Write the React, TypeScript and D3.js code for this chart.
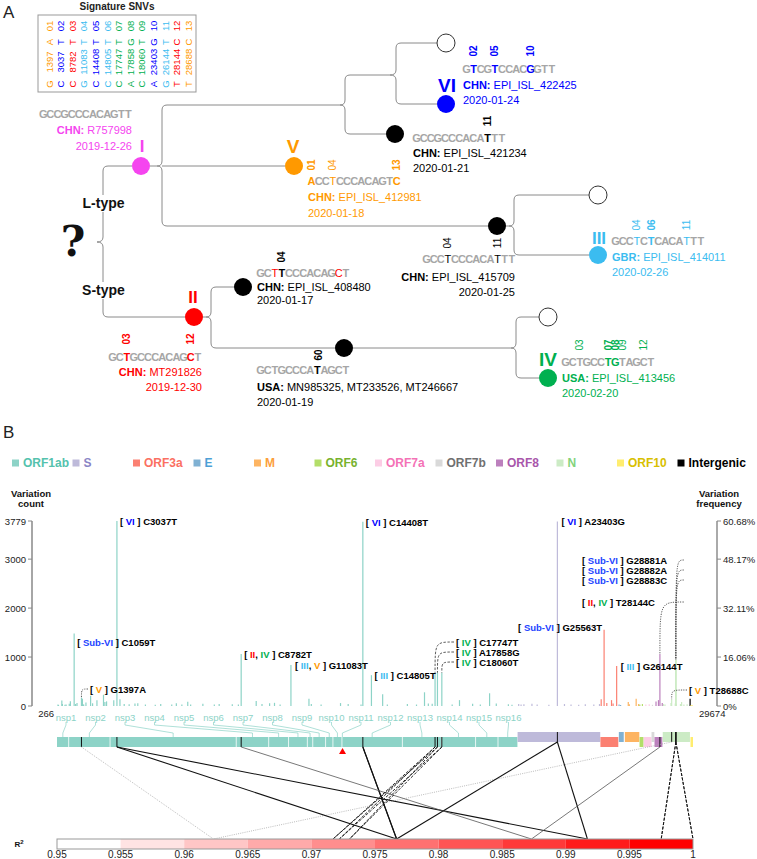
import React from 'react';
import * as d3 from 'd3';

const FONT = "'Liberation Sans', Arial, Helvetica, sans-serif";

// ---------------- Panel A data ----------------
const snvIds = ['01', '02', '03', '04', '05', '06', '07', '08', '09', '10', '11', '12', '13'];
const snvRef = ['G', 'C', 'C', 'G', 'C', 'C', 'C', 'A', 'C', 'A', 'G', 'T', 'T'];
const snvPos = [1397, 3037, 8782, 11083, 14408, 14805, 17747, 17858, 18060, 23403, 26144, 28144, 28688];
const snvAlt = ['A', 'T', 'T', 'T', 'T', 'T', 'T', 'G', 'T', 'G', 'T', 'C', 'C'];
const snvClade = ['V', 'VI', 'II', 'III', 'VI', 'III', 'IV', 'IV', 'IV', 'VI', 'III', 'II', 'V'];

const CC: Record<string, string> = {
  I: '#f545ef', II: '#ff0000', III: '#3bbcf0', IV: '#00b050', V: '#ff9900', VI: '#0000ff',
  'Sub-VI': '#2244ff', black: '#000000', white: '#ffffff',
};

// tree nodes: [name, x, y, fill]
const treeNodes: [string, number, number, string][] = [
  ['I', 141, 166, 'I'], ['o1', 446, 43, 'white'], ['VI', 446, 104, 'VI'], ['b1', 395, 134, 'black'],
  ['V', 294, 166, 'V'], ['b2', 497, 226, 'black'], ['o2', 598, 195, 'white'], ['III', 598, 255, 'III'],
  ['II', 194, 317, 'II'], ['b3', 243, 287, 'black'], ['b4', 344, 348, 'black'], ['o3', 548, 317, 'white'],
  ['IV', 548, 378, 'IV'],
];
// braces: [tipX, vX, tipY, topY, botY, topEndX, botEndX, stemStartX]
const treeBraces: number[][] = [
  [97, 103, 242, 166, 317, 132, 185, NaN],
  [157, 162, 166, 105, 226, 340, 488, 150],
  [340, 345, 105, 75, 134, 390, 386, NaN],
  [390, 396, 75, 43, 104, 437, 437, NaN],
  [509, 514, 226, 195, 255, 589, 589, 506],
  [206, 211, 317, 287, 348, 234, 335, 203],
  [511, 516, 348, 317, 378, 539, 539, 353],
];
const treeStraight: number[][] = [[162, 166, 285]];

// clade labels: [text, x, y, size]
const cladeLabels: [string, number, number, number][] = [
  ['I', 142, 146, 17], ['VI', 447, 85, 19], ['V', 293, 146, 19], ['III', 599, 238, 17],
  ['II', 193, 297, 17], ['IV', 548, 359, 19],
];

type Leaf = {
  color: string; seq: string; sx: number; sy: number;
  marks: [number, string, boolean][]; nums: [string, number, boolean, string, number][]; ny: number;
  country: string; id: string; date: string; lx: number; anchor: 'start' | 'end'; y1: number; y2: number;
};
const leaves: Leaf[] = [
  { color: CC.I, seq: 'GCCGCCCACAGTT', sx: 39.7, sy: 114, marks: [], nums: [], ny: 0,
    country: 'CHN:', id: ' R757998', date: '2019-12-26', lx: 132, anchor: 'end', y1: 130, y2: 146 },
  { color: CC.VI, seq: 'GTCGTCCACGGTT', sx: 463, sy: 69,
    marks: [[2, CC.VI, true], [5, CC.VI, true], [10, CC.VI, true]],
    nums: [['02', 2, true, CC.VI, -90], ['05', 5, true, CC.VI, -90], ['10', 10, true, CC.VI, -90]], ny: 51,
    country: 'CHN:', id: ' EPI_ISL_422425', date: '2020-01-24', lx: 463, anchor: 'start', y1: 85, y2: 100 },
  { color: '#000', seq: 'GCCGCCCACATTT', sx: 413, sy: 138, marks: [[11, '#000', true]],
    nums: [['11', 11, true, '#000', -90]], ny: 121,
    country: 'CHN:', id: ' EPI_ISL_421234', date: '2020-01-21', lx: 413, anchor: 'start', y1: 153, y2: 168 },
  { color: CC.V, seq: 'ACCTCCCACAGTC', sx: 308, sy: 181,
    marks: [[1, CC.V, true], [4, CC.V, false], [13, CC.V, true]],
    nums: [['01', 1, true, CC.V, -90], ['04', 4, false, CC.V, -90], ['13', 13, true, CC.V, -90]], ny: 165,
    country: 'CHN:', id: ' EPI_ISL_412981', date: '2020-01-18', lx: 308, anchor: 'start', y1: 197, y2: 213 },
  { color: '#000', seq: 'GCCTCCCACATTT', sx: 423, sy: 259, marks: [[4, '#000', false], [11, '#000', false]],
    nums: [['04', 4, false, '#000', -90], ['11', 11, false, '#000', -90]], ny: 243,
    country: 'CHN:', id: ' EPI_ISL_415709', date: '2020-01-25', lx: 515, anchor: 'end', y1: 277, y2: 292 },
  { color: CC.III, seq: 'GCCTCTCACATTT', sx: 612, sy: 241,
    marks: [[4, CC.III, false], [6, CC.III, true], [11, CC.III, false]],
    nums: [['04', 4, false, CC.III, -90], ['06', 6, true, CC.III, -90], ['11', 11, false, CC.III, -90]], ny: 225,
    country: 'GBR:', id: ' EPI_ISL_414011', date: '2020-02-26', lx: 612, anchor: 'start', y1: 257, y2: 272 },
  { color: CC.II, seq: 'GCTGCCCACAGCT', sx: 109, sy: 357, marks: [[3, CC.II, true], [12, CC.II, true]],
    nums: [['03', 3, true, CC.II, -90], ['12', 12, true, CC.II, -90]], ny: 339,
    country: 'CHN:', id: ' MT291826', date: '2019-12-30', lx: 202, anchor: 'end', y1: 372, y2: 387 },
  { color: '#000', seq: 'GCTTCCCACAGCT', sx: 257, sy: 273,
    marks: [[3, CC.II, false], [4, '#000', true], [12, CC.II, false]],
    nums: [['04', 4, true, '#000', -90]], ny: 257,
    country: 'CHN:', id: ' EPI_ISL_408480', date: '2020-01-17', lx: 257, anchor: 'start', y1: 287, y2: 300 },
  { color: '#000', seq: 'GCTGCCCATAGCT', sx: 257, sy: 370, marks: [[9, '#000', true]],
    nums: [['09', 9, true, '#000', 90]], ny: 355,
    country: 'USA:', id: ' MN985325, MT233526, MT246667', date: '2020-01-19', lx: 257, anchor: 'start', y1: 387, y2: 402 },
  { color: CC.IV, seq: 'GCTGCCTGTAGCT', sx: 562, sy: 362, marks: [[7, CC.IV, true], [8, CC.IV, true]],
    nums: [['03', 3, false, CC.IV, -90], ['07', 7, true, CC.IV, -90], ['08', 8, true, CC.IV, -90],
      ['09', 9, false, CC.IV, -90], ['12', 12, false, CC.IV, -90]], ny: 345,
    country: 'USA:', id: ' EPI_ISL_413456', date: '2020-02-20', lx: 562, anchor: 'start', y1: 378, y2: 393 },
];
const CHAR_W = 7.1;

// ---------------- Panel B data ----------------
const geneNames = ['ORF1ab', 'S', 'ORF3a', 'E', 'M', 'ORF6', 'ORF7a', 'ORF7b', 'ORF8', 'N', 'ORF10', 'Intergenic'];
const geneStart = [266, 21563, 25393, 26245, 26523, 27202, 27394, 27756, 27894, 28274, 29558, NaN];
const geneEnd = [21555, 25384, 26220, 26472, 27191, 27387, 27759, 27887, 28259, 29533, 29674, NaN];
const geneFill = ['#8dd3c7', '#bebada', '#fb8072', '#80b1d3', '#fdb462', '#b3de69', '#fccde5', '#d9d9d9', '#bc80bd', '#ccebc5', '#ffed6f', '#000000'];
const geneText = ['#55c2ad', '#8a85c6', '#fb7062', '#4d9fd6', '#fc9f3c', '#78b22e', '#f472b6', '#707070', '#a957ab', '#83d37b', '#d8c000', '#000000'];
const geneRaised = [false, true, false, true, true, false, false, true, false, true, false, false];

const nspNames = ['nsp1', 'nsp2', 'nsp3', 'nsp4', 'nsp5', 'nsp6', 'nsp7', 'nsp8', 'nsp9', 'nsp10', 'nsp11', 'nsp12', 'nsp13', 'nsp14', 'nsp15', 'nsp16'];
const nspStart = [266, 806, 2720, 8555, 10055, 10973, 11843, 12092, 12686, 13025, 13442, 13442, 16237, 18040, 19621, 20659];
const nspEnd = [805, 2719, 8554, 10054, 10972, 11842, 12091, 12685, 13024, 13441, 13480, 16236, 18039, 19620, 20658, 21552];
const frameshiftPos = 13468;

const countTicks = [0, 1000, 2000, 3000, 3779];
const freqTicks = ['0%', '16.06%', '32.11%', '48.17%', '60.68%'];

// labelled variants [pos, count]
const majorVariants: [number, number][] = [
  [1059, 1480], [1397, 170], [3037, 3779], [8782, 1060], [11083, 835], [14408, 3765], [14805, 630],
  [17747, 680], [17858, 680], [18060, 680], [23403, 3770], [25563, 1560], [26144, 815], [28144, 1060],
  [28688, 140], [28881, 945], [28882, 940], [28883, 940],
];
// background variants [pos, count]
const minorVariants: [number, number][] = [
  [313, 30], [335, 20], [490, 110], [515, 40], [635, 25], [686, 30], [833, 45], [884, 95], [1127, 40],
  [1191, 60], [1440, 150], [1457, 35], [1498, 30], [1605, 70], [1820, 210], [1912, 55], [2113, 120],
  [2416, 230], [2480, 80], [2558, 95], [2891, 120], [3177, 140], [3373, 40], [3602, 35], [3871, 50],
  [4002, 55], [4354, 30], [4809, 25], [5062, 40], [5572, 30], [5784, 55], [6040, 30], [6312, 85],
  [6446, 30], [7011, 45], [7540, 30], [7765, 40], [8371, 35], [8653, 30], [9477, 100], [9745, 40],
  [10097, 55], [10323, 65], [10582, 30], [11916, 150], [12025, 40], [12478, 30], [13376, 60],
  [13730, 40], [14324, 30], [15324, 240], [15540, 30], [16467, 40], [16889, 30], [17259, 280],
  [17436, 50], [17615, 45], [18538, 30], [18877, 120], [19484, 45], [19839, 30], [20268, 260],
  [20578, 50], [21137, 35], [21304, 25],
  [21614, 40], [21724, 30], [21855, 35], [22227, 45], [22468, 30], [23010, 25], [23731, 40],
  [24034, 30], [24389, 25], [24694, 35], [25088, 30], [25350, 40],
  [25429, 140], [25688, 60], [25907, 120], [25979, 50], [26256, 30], [26326, 20],
  [26681, 80], [26729, 35], [27046, 150], [27157, 40], [27213, 30], [27335, 40], [27493, 30],
  [27649, 35], [27800, 25], [27964, 90], [28077, 120], [28253, 60],
  [28311, 40], [28378, 30], [28657, 60], [28854, 50], [28899, 45], [29095, 40], [29148, 80],
  [29253, 30], [29402, 35], [29540, 150], [29585, 20], [29640, 15],
];

// annotations: [pos, clades, mutation, dx, dy, anchor]
const peakLabels: [number, string[], string, number, number, string][] = [
  [1059, ['Sub-VI'], 'C1059T', 3, 8, 'start'],
  [3037, ['VI'], 'C3037T', 3, 0, 'start'],
  [8782, ['II', 'IV'], 'C8782T', 3, 0, 'start'],
  [11083, ['III', 'V'], 'G11083T', 4, 0, 'start'],
  [14408, ['VI'], 'C14408T', 3, 0, 'start'],
  [14805, ['III'], 'C14805T', 3, 0, 'start'],
  [23403, ['VI'], 'A23403G', 4, 0, 'start'],
  [25563, ['Sub-VI'], 'G25563T', -2, -3, 'end'],
  [26144, ['III'], 'G26144T', 4, 0, 'start'],
];
// annotations with leader curves: [pos, clades, mutation, labelX, labelY, anchor, style]
const calloutLabels: [number, string[], string, number, number, string, string][] = [
  [1397, ['V'], 'G1397A', 90, 689, 'start', 'dot'],
  [17747, ['IV'], 'C17747T', 456, 642, 'start', 'dash'],
  [17858, ['IV'], 'A17858G', 456, 652, 'start', 'dash'],
  [18060, ['IV'], 'C18060T', 456, 662, 'start', 'dash'],
  [28144, ['II', 'IV'], 'T28144C', 582, 602, 'start', 'dot'],
  [28881, ['Sub-VI'], 'G28881A', 582, 560, 'start', 'dot'],
  [28882, ['Sub-VI'], 'G28882A', 582, 570, 'start', 'dot'],
  [28883, ['Sub-VI'], 'G28883C', 582, 580, 'start', 'dot'],
  [28688, ['V'], 'T28688C', 689, 690, 'start', 'dot'],
];

// linkage pairs: [posA, posB, r2, style]
const ldPairs: [number, number, number, string][] = [
  [1397, 28688, 0.9623, 'dotted'],
  [3037, 14408, 0.9767, 'solid'],
  [14408, 23403, 0.9767, 'solid'],
  [3037, 23403, 0.9917, 'solid'],
  [8782, 28144, 0.9873, 'thin'],
  [17747, 17858, 0.9717, 'dashed'],
  [17858, 18060, 0.9730, 'dashed'],
  [17747, 18060, 0.9722, 'dashed'],
  [28881, 28883, 0.9975, 'dashed'],
  [28882, 28883, 1.0, 'dashed'],
];
const r2Ticks = [0.95, 0.955, 0.96, 0.965, 0.97, 0.975, 0.98, 0.985, 0.99, 0.995, 1];

function geneIndex(pos: number): number {
  for (let i = 0; i < 11; i++) if (pos >= geneStart[i] && pos <= geneEnd[i]) return i;
  return 11;
}

function bracePath(tipX: number, vX: number, tipY: number, topY: number, botY: number) {
  const r = 5, k = 5;
  return `M${vX + r},${topY} Q${vX},${topY} ${vX},${topY + r} L${vX},${tipY - k} Q${vX},${tipY} ${tipX},${tipY} ` +
    `Q${vX},${tipY} ${vX},${tipY + k} L${vX},${botY - r} Q${vX},${botY} ${vX + r},${botY}`;
}

function CladeTspans({ clades }: { clades: string[] }) {
  const parts: any[] = [<tspan key="o" fill="#000">[ </tspan>];
  clades.forEach((c, i) => {
    if (i > 0) parts.push(<tspan key={'c' + i} fill="#000">, </tspan>);
    parts.push(<tspan key={'n' + i} fill={CC[c]}>{c}</tspan>);
  });
  return <>{parts}</>;
}

export default function App() {
  const xG = d3.scaleLinear().domain([266, 29674]).range([57, 693]);
  const yC = d3.scaleLinear().domain([0, 3779]).range([706, 521]);
  const xR = d3.scaleLinear().domain([0.95, 1]).range([57, 693]);
  const r2Color = d3.interpolateRgb('#ffffff', '#ff0000');
  const trackTop = (gi: number) => (geneRaised[gi] ? 732 : 737);
  const TRACK_H = 10;
  const ldPositions = Array.from(new Set(ldPairs.flatMap((p) => [p[0], p[1]])));
  const allVariants = [...minorVariants, ...majorVariants];

  const ldStyle = (s: string) => {
    if (s === 'solid') return { stroke: '#111', strokeWidth: 1.1 };
    if (s === 'thin') return { stroke: '#555', strokeWidth: 0.8 };
    if (s === 'dashed') return { stroke: '#111', strokeWidth: 0.9, strokeDasharray: '3,1.5' };
    return { stroke: '#aaa', strokeWidth: 0.8, strokeDasharray: '1,1.2' };
  };

  return (
    <svg width={757} height={859} style={{ position: 'absolute', left: 0, top: 0, background: '#fff' }} fontFamily={FONT}>
      <rect width={757} height={859} fill="#fff" />
      {/* ============ Panel A ============ */}
      <text x={3} y={18} fontSize={17} fill="#222">A</text>
      <text x={117} y={10} fontSize={10} fontWeight="bold" textAnchor="middle" fill="#222">Signature SNVs</text>
      <rect x={38} y={15} width={158} height={77} fill="#fff" stroke="#999" strokeWidth={1} />
      {snvIds.map((id, i) => {
        const cx = 49 + i * 11.6;
        const col = CC[snvClade[i]];
        const parts: [string, number][] = [[snvRef[i], 84], [String(snvPos[i]), 62], [snvAlt[i], 42], [id, 26]];
        return parts.map(([t, cy], j) => (
          <text key={id + j} transform={`translate(${cx},${cy}) rotate(-90)`} textAnchor="middle"
            dominantBaseline="central" fontSize={9.5} fill={col}>{t}</text>
        ));
      })}

      {/* tree branches */}
      <g fill="none" stroke="#8a8a8a" strokeWidth={1}>
        {treeBraces.map((b, i) => {
          const [tipX, vX, tipY, topY, botY, topEnd, botEnd, stem] = b;
          return (
            <g key={'br' + i}>
              <path d={bracePath(tipX, vX, tipY, topY, botY)} />
              <line x1={vX + 5} y1={topY} x2={topEnd} y2={topY} />
              <line x1={vX + 5} y1={botY} x2={botEnd} y2={botY} />
              {!isNaN(stem) && <line x1={stem} y1={tipY} x2={tipX} y2={tipY} />}
            </g>
          );
        })}
        {treeStraight.map((s, i) => <line key={'st' + i} x1={s[0]} y1={s[1]} x2={s[2]} y2={s[1]} />)}
      </g>
      {/* L/S type labels */}
      <rect x={80} y={195} width={47} height={17} fill="#fff" />
      <text x={103.5} y={208} fontSize={14} fontWeight="bold" textAnchor="middle" fill="#111">L-type</text>
      <rect x={80} y={282} width={47} height={17} fill="#fff" />
      <text x={103.5} y={295} fontSize={14} fontWeight="bold" textAnchor="middle" fill="#111">S-type</text>
      <text x={73} y={256} fontSize={42} fontWeight="bold" textAnchor="middle" fill="#111"
        fontFamily="'DejaVu Serif', serif">?</text>

      {treeNodes.map(([n, x, y, f]) => (
        <circle key={n} cx={x} cy={y} r={9} fill={CC[f]} stroke={f === 'white' ? '#333' : 'none'} strokeWidth={1} />
      ))}
      {cladeLabels.map(([t, x, y, s]) => (
        <text key={'cl' + t} x={x} y={y} fontSize={s} fontWeight="bold" textAnchor="middle"
          dominantBaseline="central" fill={CC[t]}>{t}</text>
      ))}

      {leaves.map((lf, li) => (
        <g key={'lf' + li}>
          {lf.seq.split('').map((ch, ci) => {
            const m = lf.marks.find((mk) => mk[0] === ci + 1);
            return (
              <text key={ci} x={lf.sx + (ci + 0.5) * CHAR_W} y={lf.sy} textAnchor="middle" dominantBaseline="central"
                fontSize={11} fontWeight={m ? (m[2] ? 'bold' : 'normal') : 'bold'} fill={m ? m[1] : '#a6a6a6'}>{ch}</text>
            );
          })}
          {lf.nums.map(([t, idx, b, c, rot], ni) => (
            <text key={'n' + ni} transform={`translate(${lf.sx + (idx - 0.5) * CHAR_W},${lf.ny}) rotate(${rot})`}
              textAnchor="middle" dominantBaseline="central" fontSize={10} fontWeight={b ? 'bold' : 'normal'} fill={c}>{t}</text>
          ))}
          <text x={lf.lx} y={lf.y1} textAnchor={lf.anchor} dominantBaseline="central" fontSize={11} fill={lf.color}>
            <tspan fontWeight="bold">{lf.country}</tspan>{lf.id}
          </text>
          <text x={lf.lx} y={lf.y2} textAnchor={lf.anchor} dominantBaseline="central" fontSize={11} fill={lf.color}>{lf.date}</text>
        </g>
      ))}

      {/* ============ Panel B ============ */}
      <text x={3} y={438} fontSize={17} fill="#222">B</text>
      {geneNames.map((g, i) => {
        const x = 12 + i * 60.5;
        return (
          <g key={'lg' + g}>
            <rect x={x} y={459.5} width={7} height={7} fill={geneFill[i]} />
            <text x={x + 11} y={463} dominantBaseline="central" fontSize={12} fontWeight="bold" fill={geneText[i]}>{g}</text>
          </g>
        );
      })}

      {/* axis titles */}
      <g fontSize={9.5} fontWeight="bold" fill="#111" textAnchor="middle">
        <text x={31} y={493} dominantBaseline="central">Variation</text>
        <text x={31} y={503.5} dominantBaseline="central">count</text>
        <text x={719} y={493} dominantBaseline="central">Variation</text>
        <text x={719} y={503.5} dominantBaseline="central">frequency</text>
      </g>
      {/* left axis */}
      <line x1={32} y1={yC(3779)} x2={32} y2={yC(0)} stroke="#888" strokeWidth={1.5} />
      {countTicks.map((t) => (
        <g key={'ct' + t}>
          <line x1={28} x2={32} y1={yC(t)} y2={yC(t)} stroke="#888" />
          <text x={26} y={yC(t)} textAnchor="end" dominantBaseline="central" fontSize={9.5} fill="#222">{t}</text>
        </g>
      ))}
      {/* right axis */}
      <line x1={717} y1={yC(3779)} x2={717} y2={yC(0)} stroke="#aaa" strokeWidth={2} />
      {countTicks.map((t, i) => (
        <g key={'ft' + t}>
          <line x1={717} x2={721} y1={yC(t)} y2={yC(t)} stroke="#888" />
          <text x={723} y={yC(t)} dominantBaseline="central" fontSize={9.5} fill="#222">{freqTicks[i]}</text>
        </g>
      ))}
      <text x={54} y={713} textAnchor="end" dominantBaseline="central" fontSize={9.5} fill="#222">266</text>
      <text x={699} y={713} dominantBaseline="central" fontSize={9.5} fill="#222">29674</text>

      {/* bars */}
      {allVariants.map(([p, c], i) => {
        const gi = geneIndex(p);
        return <line key={'v' + i} x1={xG(p)} x2={xG(p)} y1={yC(0)} y2={yC(c)} stroke={geneFill[gi]} strokeWidth={1.2} />;
      })}

      {/* peak labels */}
      <g fontSize={9.5} fontWeight="bold">
        {peakLabels.map(([p, cl, mut, dx, dy, anc]) => {
          const c = majorVariants.find((v) => v[0] === p)![1];
          return (
            <text key={'pl' + mut} x={xG(p) + dx} y={yC(c) + dy} textAnchor={anc as any} dominantBaseline="central">
              <CladeTspans clades={cl} /><tspan fill="#000"> ] {mut}</tspan>
            </text>
          );
        })}
        {calloutLabels.map(([p, cl, mut, lx, ly, anc, st]) => {
          const c = majorVariants.find((v) => v[0] === p)![1];
          const px = xG(p), py = yC(c);
          const labelLen = (cl.join(', ').length + mut.length + 5) * 5.6;
          const leftSide = px < lx;
          const sx = leftSide ? lx - 2 : lx + labelLen + 1;
          const d = `M${sx},${ly} C${px},${ly} ${px},${ly} ${px},${py}`;
          return (
            <g key={'co' + mut}>
              <path d={d} fill="none" stroke="#333" strokeWidth={0.8} strokeDasharray={st === 'dot' ? '1.2,1.2' : '2.5,1.5'} />
              <text x={lx} y={ly} textAnchor={anc as any} dominantBaseline="central">
                <CladeTspans clades={cl} /><tspan fill="#000"> ] {mut}</tspan>
              </text>
            </g>
          );
        })}
      </g>

      {/* nsp labels and connectors */}
      {nspNames.map((n, i) => {
        const lx = 66 + i * 29.5;
        const cx = xG((nspStart[i] + nspEnd[i]) / 2);
        return (
          <g key={n}>
            <text x={lx} y={717} textAnchor="middle" dominantBaseline="central" fontSize={9.5} fill="#8dd3c7">{n}</text>
            <polyline points={`${lx},722 ${lx},725 ${cx},733 ${cx},737`} fill="none" stroke="#8dd3c7" strokeWidth={0.7} />
          </g>
        );
      })}

      {/* genome track */}
      {geneNames.slice(0, 11).map((g, i) => (
        <rect key={'tr' + g} x={xG(geneStart[i])} y={trackTop(i)} width={Math.max(xG(geneEnd[i]) - xG(geneStart[i]), 1.5)}
          height={TRACK_H} fill={geneFill[i]} />
      ))}
      {nspEnd.slice(0, 15).map((e, i) => (
        i === 10 ? null : <line key={'ns' + i} x1={xG(e)} x2={xG(e)} y1={737} y2={747} stroke="#fff" strokeWidth={0.8} />
      ))}
      {ldPositions.map((p) => {
        const gi = geneIndex(p);
        return <line key={'tk' + p} x1={xG(p)} x2={xG(p)} y1={trackTop(gi)} y2={trackTop(gi) + TRACK_H} stroke="#111" strokeWidth={1} />;
      })}
      <path d={`M${xG(frameshiftPos)},748 l3.5,6 l-7,0 z`} fill="#ff0000" />

      {/* LD lines */}
      {ldPairs.map(([a, b, r, s], i) => (
        <g key={'ld' + i} fill="none">
          {[a, b].map((p) => (
            <line key={p} x1={xG(p)} y1={trackTop(geneIndex(p)) + TRACK_H} x2={xR(r)} y2={839} {...ldStyle(s)} />
          ))}
        </g>
      ))}

      {/* R2 bar */}
      {r2Ticks.slice(0, 10).map((t, i) => (
        <rect key={'r2' + i} x={xR(t)} y={839} width={xR(r2Ticks[i + 1]) - xR(t)} height={10} fill={r2Color(i / 9)} />
      ))}
      <rect x={xR(0.95)} y={839} width={xR(1) - xR(0.95)} height={10} fill="none" stroke="#999" strokeWidth={1} />
      {r2Ticks.map((t) => (
        <text key={'rt' + t} x={xR(t)} y={858} textAnchor="middle" fontSize={10} fill="#222">{t}</text>
      ))}
      <text x={19} y={847} textAnchor="middle" fontSize={8} fontWeight="bold" fill="#111">R<tspan fontSize={6} dy={-3}>2</tspan></text>
    </svg>
  );
}
